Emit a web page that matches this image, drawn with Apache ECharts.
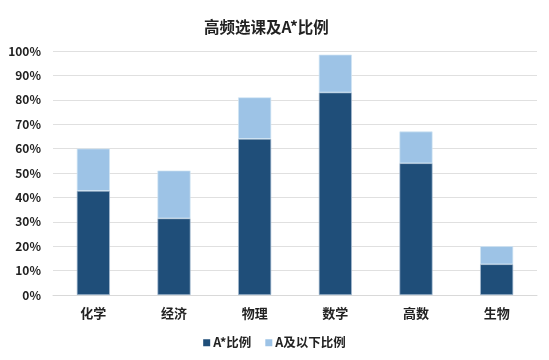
<!DOCTYPE html>
<html>
<head>
<meta charset="utf-8">
<script src="https://cdn.jsdelivr.net/npm/echarts@6/dist/echarts.min.js"></script>
<style>html,body{margin:0;padding:0;background:#fff}#c{width:549px;height:360px}</style>
</head>
<body>
<div id="c"></div>
<script>
var categories = ['化学', '经济', '物理', '数学', '高数', '生物'];
var aStar = [42.7, 31.4, 64, 83, 54, 12.6];
var aBelow = [17.3, 19.6, 17, 15.5, 13, 7.4];
var yTicks = [0, 10, 20, 30, 40, 50, 60, 70, 80, 90, 100];
var seriesNames = ['A*比例', 'A及以下比例'];

var font = '"Noto Sans CJK SC", "Noto Sans", sans-serif';
var chart = echarts.init(document.getElementById('c'));
chart.setOption({
  animation: false,
  textStyle: { fontFamily: font },
  title: {
    text: '高频选课及A*比例', left: 199, top: 14,
    textStyle: { fontSize: 15.5, fontWeight: 'bold', color: '#222', fontFamily: font }
  },
  legend: {
    bottom: 6, left: 'center', itemWidth: 7, itemHeight: 7, itemGap: 14,
    icon: 'rect',
    itemStyle: { borderWidth: 0 },
    textStyle: { fontSize: 12.5, fontWeight: 'bold', color: '#222', fontFamily: font, padding: [0, 0, 0, -2] },
    data: seriesNames
  },
  grid: { left: 53, right: 12, top: 51, bottom: 65 },
  xAxis: {
    type: 'category', data: categories,
    axisLine: { lineStyle: { color: '#d9d9d9' } },
    axisTick: { show: false },
    axisLabel: { fontSize: 13, fontWeight: 'bold', color: '#222', margin: 12, fontFamily: font }
  },
  yAxis: {
    type: 'value', min: yTicks[0], max: yTicks[yTicks.length - 1], interval: 10,
    axisLine: { show: false }, axisTick: { show: false },
    splitLine: { lineStyle: { color: '#e0e0e0' } },
    axisLabel: { formatter: '{value}%', fontSize: 12, fontWeight: 'bold', color: '#222', margin: 12, fontFamily: font }
  },
  series: [
    {
      name: seriesNames[0], type: 'bar', stack: 'a', data: aStar, barWidth: '41%',
      itemStyle: { color: '#1F4E79', borderColor: '#a7bdd3', borderWidth: 0.7 }
    },
    {
      name: seriesNames[1], type: 'bar', stack: 'a', data: aBelow, barWidth: '41%',
      itemStyle: { color: '#9DC3E6', borderColor: '#d3e5f4', borderWidth: 0.7 }
    }
  ]
});
</script>
</body>
</html>
